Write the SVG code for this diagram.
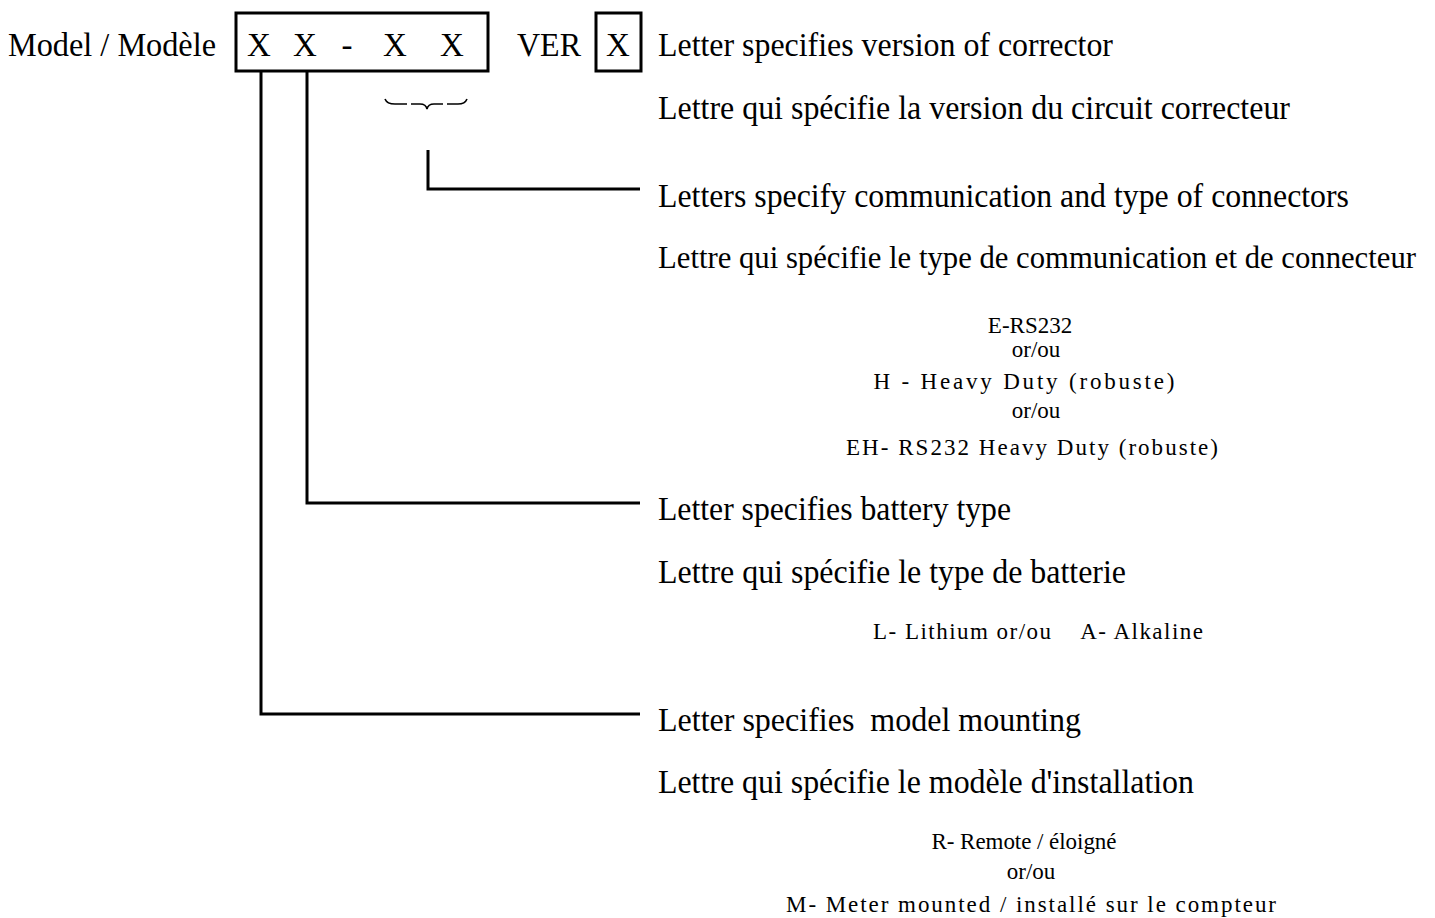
<svg xmlns="http://www.w3.org/2000/svg" width="1435" height="918" viewBox="0 0 1435 918">
<style>
.big{font-family:"Liberation Serif","Times New Roman",serif;font-size:33px;fill:#000}
.sm{font-family:"Liberation Serif","Times New Roman",serif;font-size:23px;fill:#000}
.box{fill:none;stroke:#000;stroke-width:3}
.ln{fill:none;stroke:#000;stroke-width:3}
.brace{fill:none;stroke:#000;stroke-width:1.6}
</style>
<rect width="1435" height="918" fill="#fff"/>
<g id="model-label"><text class="big" x="8" y="56" textLength="208" lengthAdjust="spacingAndGlyphs">Model / Modèle</text></g>
<g id="model-box">
<rect class="box" x="236" y="13" width="252" height="58"/>
<text class="big" x="259" y="56" text-anchor="middle">X</text>
<text class="big" x="305" y="56" text-anchor="middle">X</text>
<text class="big" x="347" y="56" text-anchor="middle">-</text>
<text class="big" x="395" y="56" text-anchor="middle">X</text>
<text class="big" x="452" y="56" text-anchor="middle">X</text>
</g>
<g id="ver"><text class="big" x="517" y="56" textLength="64" lengthAdjust="spacingAndGlyphs">VER</text></g>
<g id="ver-box">
<rect class="box" x="596" y="13" width="45" height="58"/>
<text class="big" x="618" y="56" text-anchor="middle">X</text>
</g>
<g id="brace">
<path class="brace" d="M385,99 Q387,104 395,104 L407,104 M411,104 L420,104 Q426,104 427,109 Q428,104 434,104 L443,104 M447,104 L458,104 Q465,104 467,99"/>
</g>
<g id="connectors">
<polyline class="ln" points="428,150 428,189 640,189"/>
<polyline class="ln" points="307,71 307,503 640,503"/>
<polyline class="ln" points="261,71 261,714 640,714"/>
</g>
<g id="version-desc">
<text class="big" x="658" y="56" textLength="455" lengthAdjust="spacingAndGlyphs">Letter specifies version of corrector</text>
<text class="big" x="658" y="119" textLength="632" lengthAdjust="spacingAndGlyphs">Lettre qui spécifie la version du circuit correcteur</text>
</g>
<g id="comm-desc">
<text class="big" x="658" y="207" textLength="691" lengthAdjust="spacingAndGlyphs">Letters specify communication and type of connectors</text>
<text class="big" x="658" y="268" style="font-size:31px" textLength="758" lengthAdjust="spacingAndGlyphs">Lettre qui spécifie le type de communication et de connecteur</text>
<text class="sm" x="1030" y="333" text-anchor="middle">E-RS232</text>
<text class="sm" x="1036" y="357" text-anchor="middle">or/ou</text>
<text class="sm" x="1024" y="389" text-anchor="middle" textLength="301" lengthAdjust="spacing">H - Heavy Duty (robuste)</text>
<text class="sm" x="1036" y="418" text-anchor="middle">or/ou</text>
<text class="sm" x="1032" y="455" text-anchor="middle" textLength="372" lengthAdjust="spacing">EH- RS232 Heavy Duty (robuste)</text>
</g>
<g id="battery-desc">
<text class="big" x="658" y="520" textLength="353" lengthAdjust="spacingAndGlyphs">Letter specifies battery type</text>
<text class="big" x="658" y="583" textLength="468" lengthAdjust="spacingAndGlyphs">Lettre qui spécifie le type de batterie</text>
<text class="sm" x="873" y="639" textLength="330" lengthAdjust="spacing" xml:space="preserve">L- Lithium or/ou    A- Alkaline</text>
</g>
<g id="mount-desc">
<text class="big" x="658" y="731" textLength="423" lengthAdjust="spacingAndGlyphs" xml:space="preserve">Letter specifies  model mounting</text>
<text class="big" x="658" y="793" textLength="536" lengthAdjust="spacingAndGlyphs">Lettre qui spécifie le modèle d'installation</text>
<text class="sm" x="1024" y="849" text-anchor="middle" textLength="185" lengthAdjust="spacing">R- Remote / éloigné</text>
<text class="sm" x="1031" y="879" text-anchor="middle">or/ou</text>
<text class="sm" x="1031" y="912" text-anchor="middle" textLength="490" lengthAdjust="spacing">M- Meter mounted / installé sur le compteur</text>
</g>
</svg>
